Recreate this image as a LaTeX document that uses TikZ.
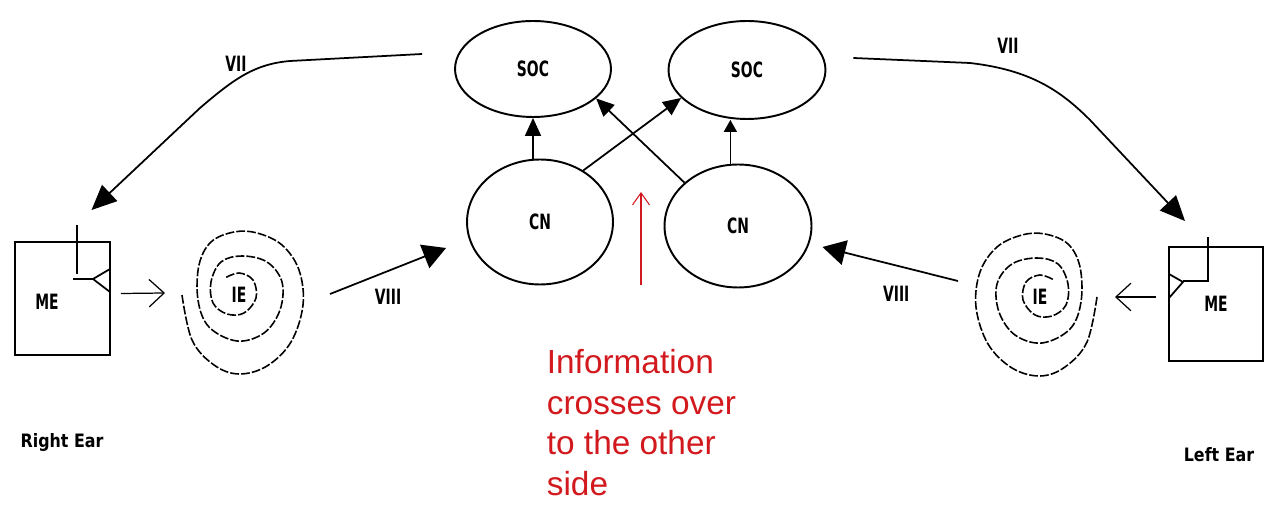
\documentclass[tikz,border=0pt]{standalone}
\usepackage{fontspec}
\setmainfont{Liberation Sans}
\newfontfamily\blockfont{DejaVu Sans}
\usepackage{graphicx}
\usetikzlibrary{shapes.geometric,arrows.meta,positioning}
\definecolor{notered}{RGB}{210,25,30}
\newcommand{\pixlbl}[1]{\scalebox{0.66}[1]{\blockfont\fontsize{12}{12}\selectfont\bfseries #1}}

% hand-drawn cochlea, outer end on the left, winding inwards
\tikzset{
  coil/.style={line width=0.9pt, dash pattern=on 5pt off 1.2pt},
  cochlea/.pic={
    \draw[coil] plot[smooth, tension=0.6] coordinates {
      (-57,0) (-47,45) (-25,70) (0,79) (28,71) (52,47) (64,10) (60,-25)
      (43,-50) (18,-62) (-5,-63) (-28,-53) (-40,-30) (-41,5) (-30,32)
      (-2,46) (25,38) (41,15) (43,-13) (28,-33) (3,-39) (-18,-33)
      (-28,-13) (-26,8) (-12,19) (5,18) (17,3) (14,-15) (0,-22) (-14,-17)};
  }
}

\begin{document}
\begin{tikzpicture}[
    x=0.02cm, y=-0.02cm,
    line width=1pt,
    nucleus/.style={ellipse, draw, line width=1.1pt, inner sep=0pt},
    earbox/.style={rectangle, draw, line width=1.1pt, inner sep=0pt},
    fibre/.style={font=\fontsize{12}{12}\selectfont},
    earlbl/.style={font=\blockfont\fontsize{10.5}{12}\selectfont\bfseries, xscale=0.86, transform shape},
    note/.style={text=notered, align=left, inner sep=0pt, font=\fontsize{19}{23.3}\selectfont},
    viiarrow/.style={-{Triangle[length=0.5cm,width=0.44cm]}},
    viiiarrow/.style={-{Triangle[length=0.46cm,width=0.5cm]}},
    crossarrow/.style={-{Triangle[length=0.36cm,width=0.32cm]}},
    liftarrow/.style={-{Triangle[length=0.24cm,width=0.26cm]}},
    openarrow/.style={-{Straight Barb[length=0.3cm,width=0.55cm]}, line width=0.7pt},
    notearrow/.style={draw=notered, -{Straight Barb[length=0.24cm,width=0.34cm]}, line width=0.6pt}
]
\useasboundingbox (0,0) rectangle (1268,509);

% brainstem nuclei
\node[nucleus, minimum width=3.12cm, minimum height=1.92cm] (socL) at (533,69) {\pixlbl{SOC}};
\node[nucleus, minimum width=3.14cm, minimum height=1.96cm] (socR) at (747,70) {\pixlbl{SOC}};
\node[nucleus, minimum width=2.92cm, minimum height=2.5cm] (cnL) at (540,222) {\pixlbl{CN}};
\node[nucleus, minimum width=2.94cm, minimum height=2.46cm] (cnR) at (738,226) {\pixlbl{CN}};

% middle ears
\node[earbox, minimum width=1.9cm, minimum height=2.26cm,
      label={[xshift=-0.31cm, yshift=-0.07cm]center:\pixlbl{ME}}] (meL) at (62.5,298.5) {};
\node[earbox, minimum width=1.88cm, minimum height=2.28cm] (meR) at (1216,304) {\pixlbl{ME}};

% ossicles
\draw (77,225) -- (77,274);
\draw (73,279) -- (93,279);
\draw (110,269) -- (93,279) -- (110,292);
\draw (1208,237) -- (1208,281) -- (1183,281);
\draw (1169,274) -- (1183,282) -- (1169,298);

% inner ears
\node (ieL) at (239,295) {\pixlbl{IE}};
\node (ieR) at (1040,297) {\pixlbl{IE}};
\pic at (ieL) {cochlea};
\pic[xscale=-1] at (ieR) {cochlea};

\node[earlbl] (rightEar) at (62,442) {Right Ear};
\node[earlbl] (leftEar) at (1219,455) {Left Ear};

% ME -> IE
\draw[openarrow] ([shift={(10,-5)}]meL.east) -- ([shift={(-74,-2)}]ieL.center);
\draw[openarrow] ([shift={(-12,-7)}]meR.west) -- ([shift={(75,0)}]ieR.center);

% VIII nerve
\draw[viiiarrow] ([shift={(91,-1)}]ieL.center) -- ([shift={(-20,26)}]cnL.west)
  node[fibre, midway, below=0.22cm] {\pixlbl{VIII}};
\draw[viiiarrow] ([shift={(-82,-16)}]ieR.center) -- ([shift={(10,21)}]cnR.east)
  node[fibre, midway, below=0.3cm, xshift=0.12cm] {\pixlbl{VIII}};

% CN -> SOC, both sides
\draw[crossarrow] (cnL.north -| socL.south) -- (socL.south);
\draw[liftarrow] (cnR.97) -- (cnR.97 |- socR.south);
\draw[crossarrow] (cnL.50) -- (socR.203);
\draw[crossarrow] (cnR.141) -- (socL.-25);

% VII back to the middle ears
\draw[viiarrow] ([shift={(-32,-15)}]socL.west) -- (290,61)
  .. controls (255,64) and (235,78) .. (200,108) -- ([shift={(29,-31)}]meL.north);
\draw[viiarrow] ([shift={(27,-12)}]socR.east) -- (970,63)
  .. controls (1030,70) and (1060,90) .. (1090,120) -- ([shift={(-31,-25)}]meR.north);
\node[fibre] (viiL) at (236,64) {\pixlbl{VII}};
\node[fibre] (viiR) at (1008,46) {\pixlbl{VII}};

% crossing note
\coordinate (crossBase) at (641,285);
\coordinate (crossTip) at (641,192);
\draw[notearrow] (crossBase) -- (crossTip);
\node[note, anchor=north west] (info) at (546,348) {Information\\crosses over\\to the other\\side};
\end{tikzpicture}
\end{document}
